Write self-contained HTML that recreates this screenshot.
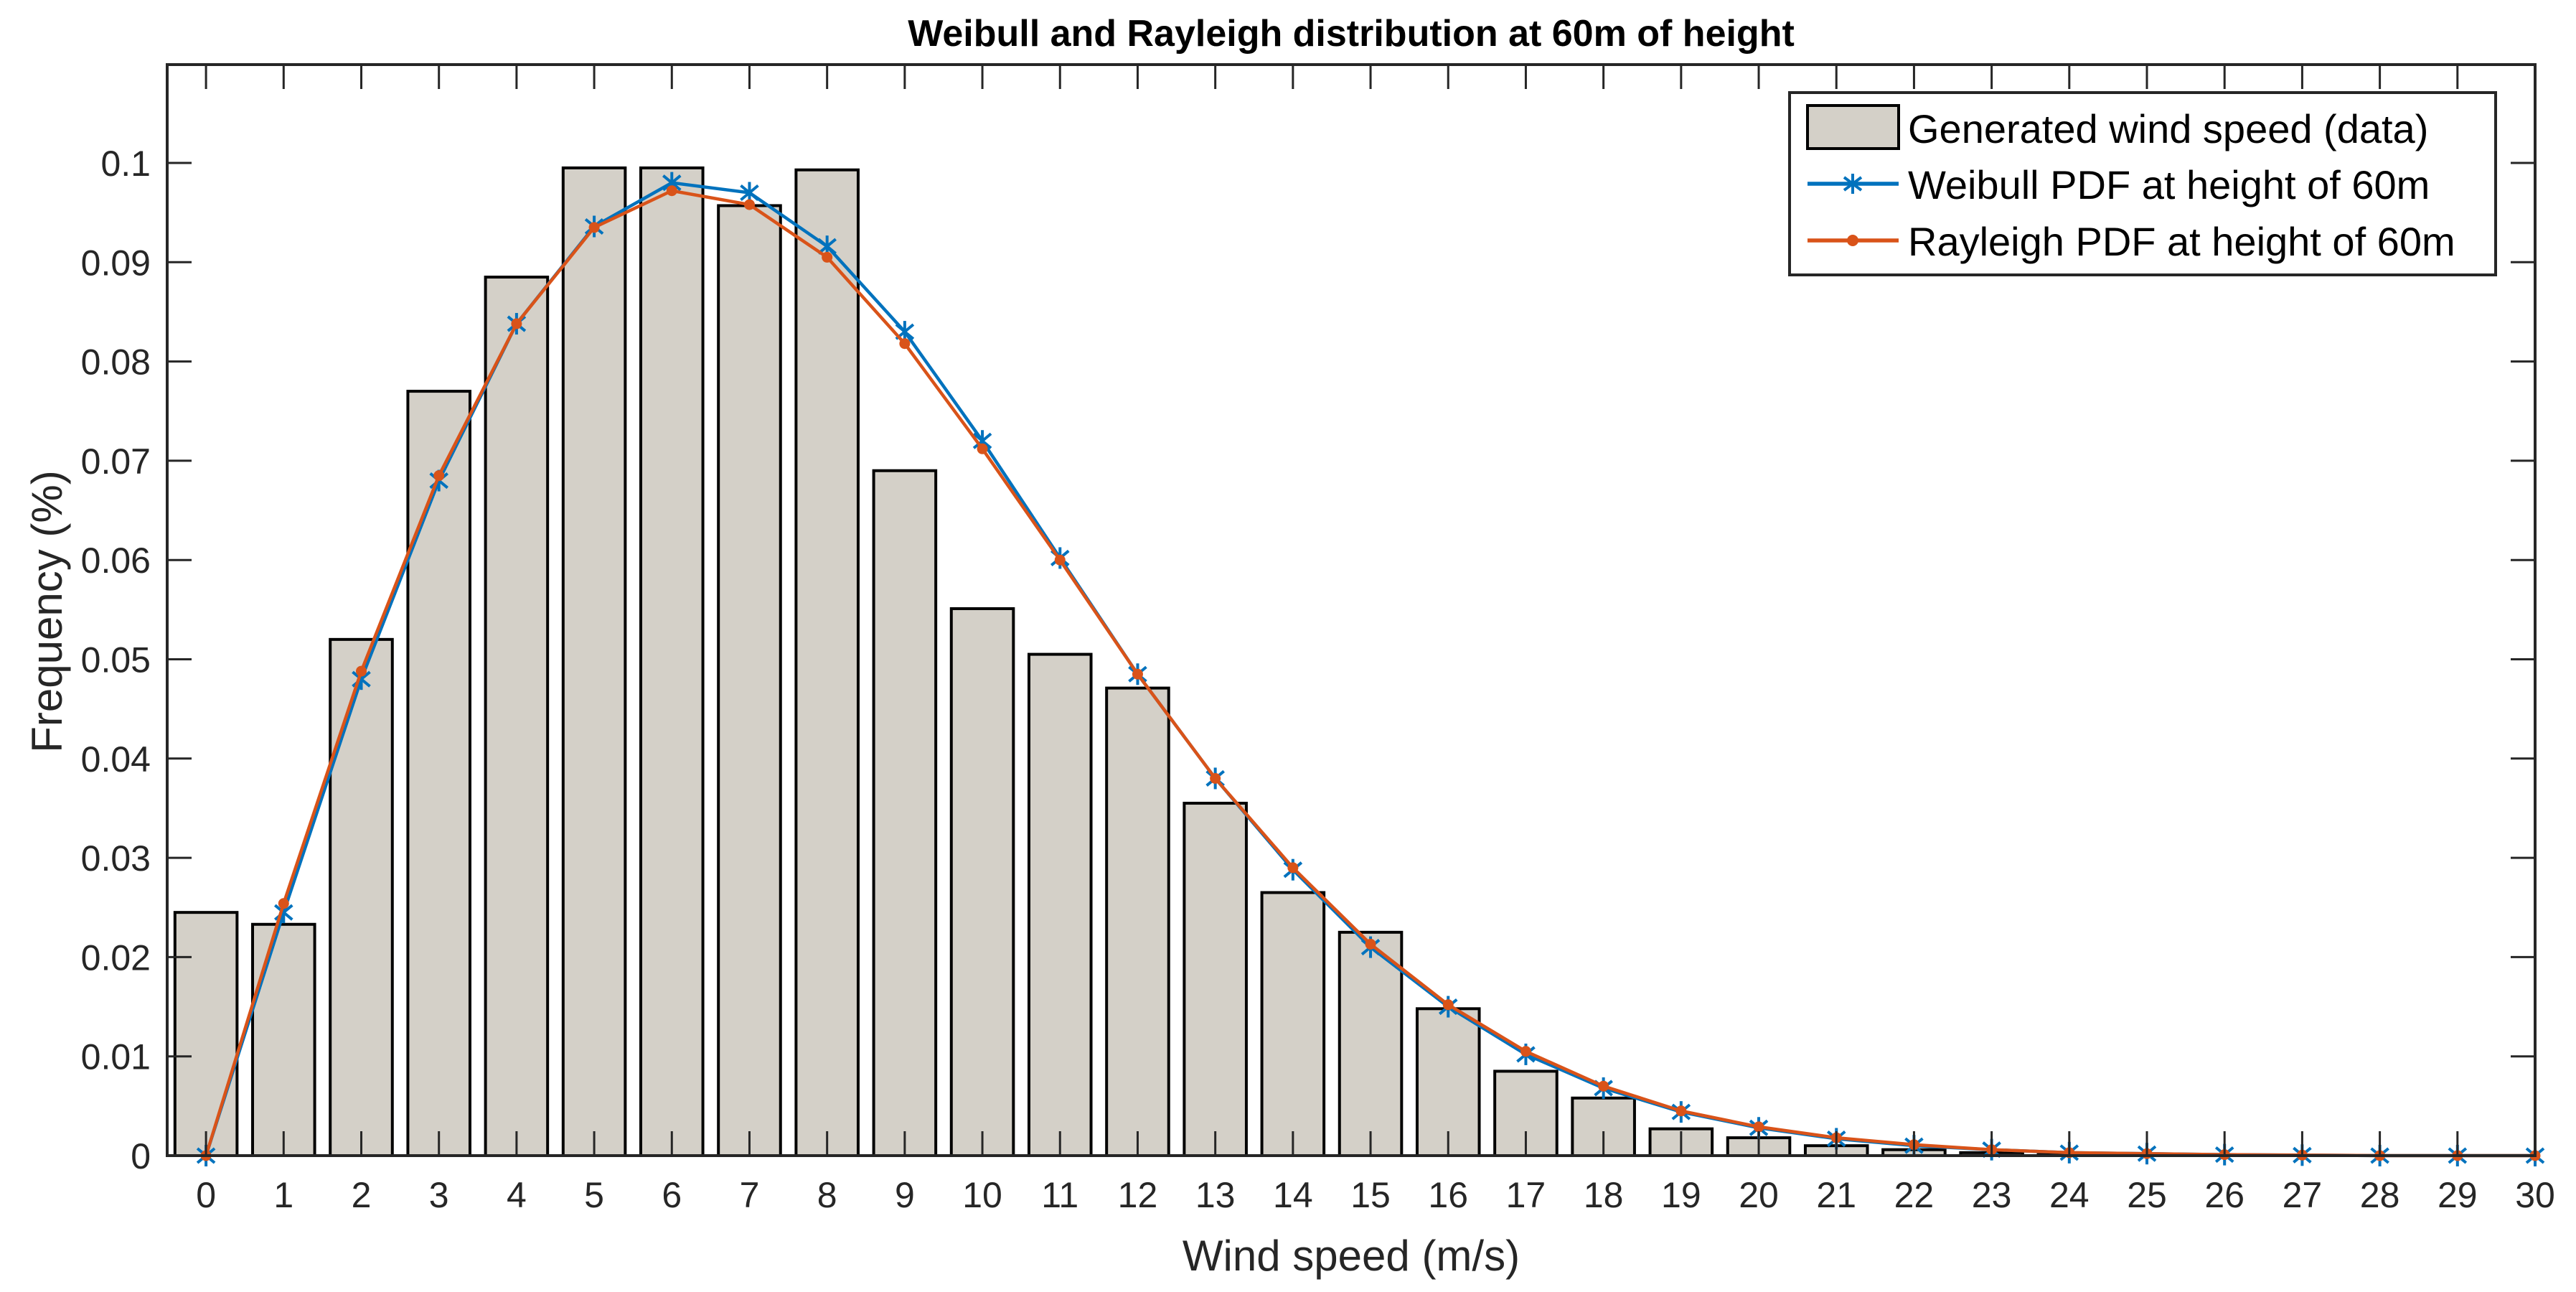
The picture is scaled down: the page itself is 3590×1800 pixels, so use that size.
<!DOCTYPE html>
<html><head><meta charset="utf-8"><style>
html,body{margin:0;padding:0;background:#fff}
svg{display:block;font-family:"Liberation Sans",Arial,sans-serif}
</style></head><body>
<svg id="chart" width="3590" height="1800" viewBox="0 0 3590 1800" xmlns="http://www.w3.org/2000/svg">
<text x="1883" y="64" font-size="52" font-weight="bold" text-anchor="middle" fill="#000">Weibull and Rayleigh distribution at 60m of height</text>
<g id="plot"></g>
<text x="1883" y="1770" font-size="60" text-anchor="middle" fill="#262626">Wind speed (m/s)</text>
<text transform="translate(86,852) rotate(-90)" font-size="60" text-anchor="middle" fill="#262626">Frequency (%)</text>
<g>
<rect x="2494" y="129" width="984" height="254" fill="#fff" stroke="#262626" stroke-width="4"/>
<g>
<rect x="2519" y="147" width="127" height="60" fill="#d4d0c8" stroke="#000" stroke-width="4"/>
<text x="2659" y="199" font-size="56" fill="#000">Generated wind speed (data)</text></g>
<g>
<line x1="2519" y1="256" x2="2646" y2="256" stroke="#0072BD" stroke-width="5.5"/>
<g stroke="#0072BD" stroke-width="4"><line x1="2582" y1="242" x2="2582" y2="270"/><line x1="2570" y1="247" x2="2594" y2="265"/><line x1="2570" y1="265" x2="2594" y2="247"/></g>
<text x="2659" y="277" font-size="56" fill="#000">Weibull PDF at height of 60m</text></g>
<g>
<line x1="2519" y1="335" x2="2646" y2="335" stroke="#D95319" stroke-width="5.5"/>
<circle cx="2582" cy="335" r="8" fill="#D95319"/>
<text x="2659" y="356" font-size="56" fill="#000">Rayleigh PDF at height of 60m</text></g>
</g>
</svg>
<script>
const categories=[0,1,2,3,4,5,6,7,8,9,10,11,12,13,14,15,16,17,18,19,20,21,22,23,24,25,26,27,28,29,30];
const dataValues=[0.0245,0.0233,0.052,0.077,0.0885,0.0995,0.0995,0.0957,0.0993,0.069,0.0551,0.0505,0.0471,0.0355,0.0265,0.0225,0.0148,0.0085,0.0058,0.0027,0.0018,0.001,0.0006,0.0003,0.0001,0,0,0,0,0,0];
const weibullValues=[0,0.0245,0.048,0.068,0.0838,0.0936,0.098,0.097,0.0916,0.083,0.072,0.0602,0.0485,0.038,0.0288,0.021,0.015,0.0102,0.0068,0.0044,0.0028,0.0017,0.001,0.0006,0.0003,0.0002,0.0001,0.00005,0,0,0];
const rayleighValues=[0,0.0254,0.0488,0.0685,0.0838,0.0935,0.0972,0.0958,0.0905,0.0818,0.0712,0.06,0.0485,0.038,0.029,0.0213,0.0152,0.0105,0.007,0.0045,0.0029,0.0018,0.0011,0.0006,0.0003,0.0002,0.0001,0.00005,0,0,0];
const yTicks=[0,0.01,0.02,0.03,0.04,0.05,0.06,0.07,0.08,0.09,0.1];
const yTickLabels=["0","0.01","0.02","0.03","0.04","0.05","0.06","0.07","0.08","0.09","0.1"];

const L=233,R=3533,T=90,B=1610;
const xMin=-0.5,xMax=30,yPer=13830;
function X(v){return L+(v-xMin)/(xMax-xMin)*(R-L);}
function Y(v){return B-v*yPer;}
const NS="http://www.w3.org/2000/svg";
const g=document.getElementById('plot');
function mk(tag,attrs,parent){const e=document.createElementNS(NS,tag);for(const k in attrs)e.setAttribute(k,attrs[k]);(parent||g).appendChild(e);return e;}

categories.forEach((c,i)=>{
  const v=dataValues[i]; if(v<=0) return;
  const w=0.8*(X(1)-X(0));
  const r=mk('rect',{x:X(c)-w/2,y:Y(v),width:w,height:Y(0)-Y(v),fill:'#d4d0c8',stroke:'#000','stroke-width':4});
  
  
});

function series(vals,color,name){
  const pts=categories.map((c,i)=>X(c)+','+Y(vals[i])).join(' ');
  const p=mk('polyline',{points:pts,fill:'none',stroke:color,'stroke-width':4.5,'stroke-linejoin':'round'});
  
  
  return p;
}
series(weibullValues,'#0072BD','weibull');
categories.forEach((c,i)=>{
  const cx=X(c),cy=Y(weibullValues[i]);
  const m=mk('g',{stroke:'#0072BD','stroke-width':4});
  
  
  mk('line',{x1:cx,y1:cy-15,x2:cx,y2:cy+15},m);
  mk('line',{x1:cx-12,y1:cy-10,x2:cx+12,y2:cy+10},m);
  mk('line',{x1:cx-12,y1:cy+10,x2:cx+12,y2:cy-10},m);
});
series(rayleighValues,'#D95319','rayleigh');
categories.forEach((c,i)=>{
  const d=mk('circle',{cx:X(c),cy:Y(rayleighValues[i]),r:7.5,fill:'#D95319'});
  
  
});

const ax=mk('rect',{x:L,y:T,width:R-L,height:B-T,fill:'none',stroke:'#262626','stroke-width':4});



categories.forEach(c=>{
  const x=X(c);
  mk('line',{x1:x,y1:B,x2:x,y2:B-34,stroke:'#262626','stroke-width':3});
  mk('line',{x1:x,y1:T,x2:x,y2:T+34,stroke:'#262626','stroke-width':3});
  const t=mk('text',{x:x,y:1682,'font-size':50,'text-anchor':'middle',fill:'#262626'});
  t.textContent=String(c);
  
  
});
yTicks.forEach((v,i)=>{
  const y=Y(v);
  mk('line',{x1:L,y1:y,x2:L+34,y2:y,stroke:'#262626','stroke-width':3});
  mk('line',{x1:R,y1:y,x2:R-34,y2:y,stroke:'#262626','stroke-width':3});
  const t=mk('text',{x:210,y:y+18,'font-size':50,'text-anchor':'end',fill:'#262626'});
  t.textContent=yTickLabels[i];
  
  
});
</script>
</body></html>
